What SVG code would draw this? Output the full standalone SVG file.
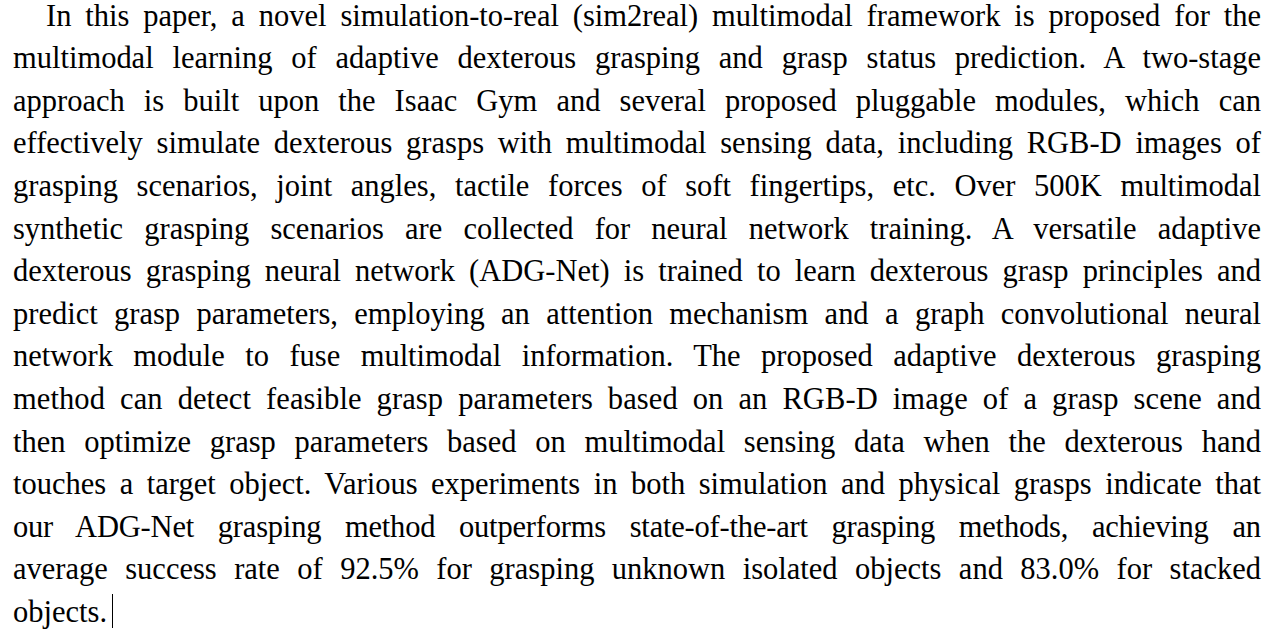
<svg xmlns="http://www.w3.org/2000/svg" width="1276" height="633" viewBox="0 0 1276 633">
<style>
text{font-family:"Liberation Serif","Times New Roman",serif;font-size:30.5px;fill:#000}
.j{}
</style>
<rect width="1276" height="633" fill="#fff"/>
<g id="paragraph">
<text x="46" y="25.5" word-spacing="6.3" textLength="1215" lengthAdjust="spacing">In this paper, a novel simulation-to-real (sim2real) multimodal framework is proposed for the</text>
<text x="13" y="68.1" word-spacing="11.2" textLength="1248" lengthAdjust="spacing">multimodal learning of adaptive dexterous grasping and grasp status prediction. A two-stage</text>
<text x="13" y="110.7" word-spacing="11.5" textLength="1248" lengthAdjust="spacing">approach is built upon the Isaac Gym and several proposed pluggable modules, which can</text>
<text x="13" y="153.3" word-spacing="6.2" textLength="1248" lengthAdjust="spacing">effectively simulate dexterous grasps with multimodal sensing data, including RGB-D images of</text>
<text x="13" y="195.9" word-spacing="11.05" textLength="1248" lengthAdjust="spacing">grasping scenarios, joint angles, tactile forces of soft fingertips, etc. Over 500K multimodal</text>
<text x="13" y="238.5" word-spacing="13.5" textLength="1248" lengthAdjust="spacing">synthetic grasping scenarios are collected for neural network training. A versatile adaptive</text>
<text x="13" y="281.1" word-spacing="6.5" textLength="1248" lengthAdjust="spacing">dexterous grasping neural network (ADG-Net) is trained to learn dexterous grasp principles and</text>
<text x="13" y="323.7" word-spacing="8.8" textLength="1248" lengthAdjust="spacing">predict grasp parameters, employing an attention mechanism and a graph convolutional neural</text>
<text x="13" y="366.3" word-spacing="12.8" textLength="1248" lengthAdjust="spacing">network module to fuse multimodal information. The proposed adaptive dexterous grasping</text>
<text x="13" y="408.9" word-spacing="7.3" textLength="1248" lengthAdjust="spacing">method can detect feasible grasp parameters based on an RGB-D image of a grasp scene and</text>
<text x="13" y="451.5" word-spacing="11.1" textLength="1248" lengthAdjust="spacing">then optimize grasp parameters based on multimodal sensing data when the dexterous hand</text>
<text x="13" y="494.1" word-spacing="5.9" textLength="1248" lengthAdjust="spacing">touches a target object. Various experiments in both simulation and physical grasps indicate that</text>
<text x="13" y="536.7" word-spacing="16.3" textLength="1248" lengthAdjust="spacing">our ADG-Net grasping method outperforms state-of-the-art grasping methods, achieving an</text>
<text x="13" y="579.3" word-spacing="9.8" textLength="1248" lengthAdjust="spacing">average success rate of 92.5% for grasping unknown isolated objects and 83.0% for stacked</text>
<text x="13" y="621.9">objects.</text>
</g>
<line x1="112.5" y1="594" x2="112.5" y2="628" stroke="#000" stroke-width="1"/>
</svg>
